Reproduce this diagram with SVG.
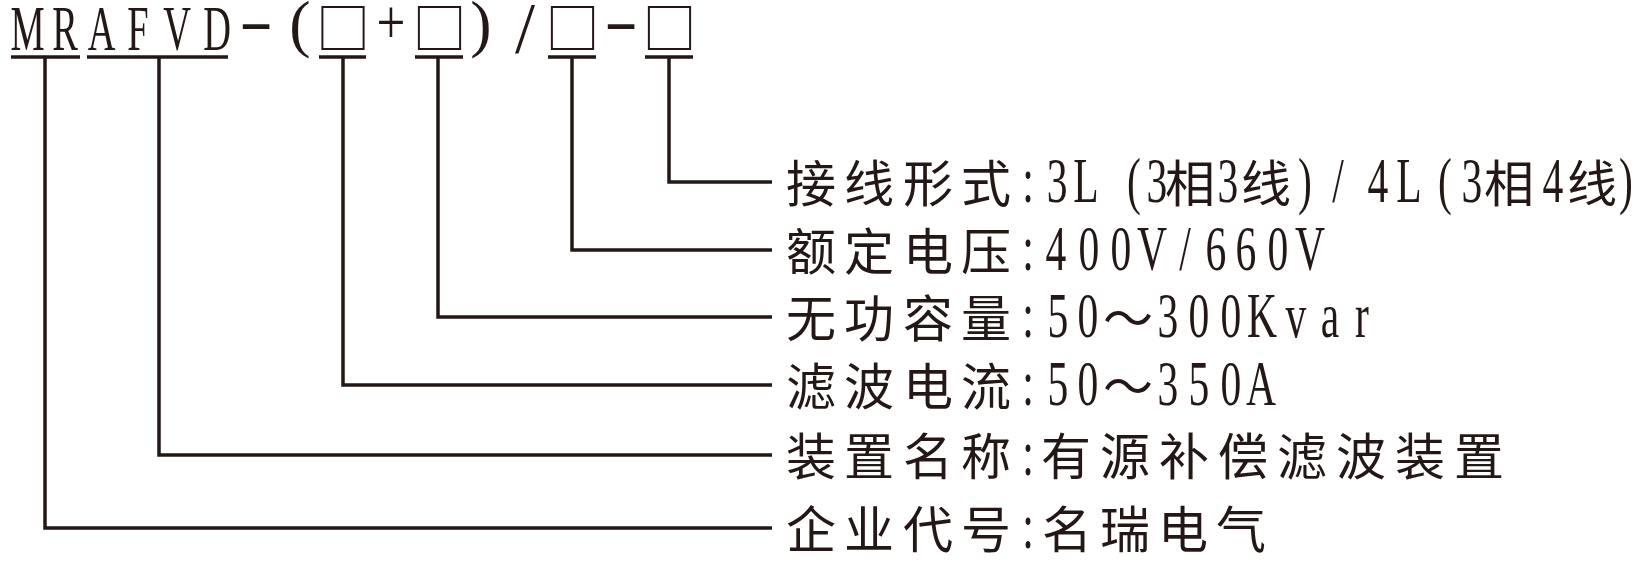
<svg xmlns="http://www.w3.org/2000/svg" width="1646" height="564" viewBox="0 0 1646 564">
<style>
.lat{font-family:"Liberation Serif","Times New Roman",serif;font-size:64px;fill:#231815;text-anchor:middle}
.cjk{font-family:"Noto Sans CJK SC","Noto Sans CJK JP",sans-serif;font-size:50px;fill:#231815;text-anchor:middle}
.box{font-family:"Noto Sans CJK SC","Noto Sans CJK JP",sans-serif;font-size:54px;fill:#231815;text-anchor:middle}
.ln{fill:none;stroke:#231815;stroke-width:3.5;stroke-linecap:butt;stroke-linejoin:miter}
</style>
<rect width="1646" height="564" fill="#ffffff"/>
<g id="title">
<text class="lat" transform="scale(0.6,1)" x="45.8 108.3 169.2 230 295 361.7" y="50">MRAFVD</text>
<text class="lat" transform="translate(256,0) scale(1.6,1)" x="0" y="42">-</text>
<text class="lat" x="300" y="45">(</text>
<text class="box" x="343" y="48.5">□</text>
<text class="lat" transform="translate(391,0) scale(0.8,1)" x="0" y="44">+</text>
<text class="box" x="439.5" y="48.5">□</text>
<text class="lat" x="481" y="45">)</text>
<text class="lat" x="525" y="52" style="font-size:72px">/</text>
<text class="box" x="572.5" y="48.5">□</text>
<text class="lat" transform="translate(621,0) scale(1.6,1)" x="0" y="42">-</text>
<text class="box" x="669.5" y="48.5">□</text>
</g>
<g id="connectors">
<path class="ln" d="M11,57H80M87,57H228M319,57H366M415,57H463M548,57H596M645,57H693"/>
<path class="ln" d="M669,57V182H772"/>
<path class="ln" d="M572,57V250H772"/>
<path class="ln" d="M438,57V317H772"/>
<path class="ln" d="M343,57V385H772"/>
<path class="ln" d="M159,57V455H772"/>
<path class="ln" d="M45,57V528H772"/>
</g>
<g id="row1">
<text class="cjk" x="811 869 928 986" y="201.5">接线形式</text>
<text class="lat" transform="scale(0.65,1)" x="1581.5 1626.2 1670.8 1744.6 1780" y="202">:3L(3</text>
<text class="cjk" x="1190" y="201.5">相</text>
<text class="lat" transform="scale(0.65,1)" x="1889.2" y="202">3</text>
<text class="cjk" x="1266" y="201.5">线</text>
<text class="lat" transform="scale(0.65,1)" x="2007.7 2058.5 2120 2167.7 2223.1 2264.6" y="202">)/4L(3</text>
<text class="cjk" x="1509" y="201.5">相</text>
<text class="lat" transform="scale(0.65,1)" x="2389.2" y="202">4</text>
<text class="cjk" x="1592" y="201.5">线</text>
<text class="lat" transform="scale(0.65,1)" x="2501.5" y="202">)</text>
</g>
<g id="row2">
<text class="cjk" x="811 869 928 986" y="269.5">额定电压</text>
<text class="lat" transform="scale(0.65,1)" x="1581.5 1624.6 1675.4 1724.6 1772.3 1823.1 1870.8 1916.9 1966.2 2015.4" y="270">:400V/660V</text>
</g>
<g id="row3">
<text class="cjk" x="811 869 928 986" y="336.5">无功容量</text>
<text class="lat" transform="scale(0.65,1)" x="1581.5 1627.7 1673.8" y="337">:50</text>
<text class="cjk" x="1128" y="336.5">～</text>
<text class="lat" transform="scale(0.65,1)" x="1796.9 1844.6 1893.8 1941.5 1993.8 2046 2095.4" y="337">300Kvar</text>
</g>
<g id="row4">
<text class="cjk" x="811 869 928 986" y="404.5">滤波电流</text>
<text class="lat" transform="scale(0.65,1)" x="1581.5 1627.7 1673.8" y="405">:50</text>
<text class="cjk" x="1128" y="404.5">～</text>
<text class="lat" transform="scale(0.65,1)" x="1796.9 1844.6 1893.8 1940" y="405">350A</text>
</g>
<g id="row5">
<text class="cjk" x="811 869 928 986" y="474.5">装置名称</text>
<text class="lat" transform="scale(0.65,1)" x="1581.5" y="475">:</text>
<text class="cjk" x="1066 1125 1184 1243 1302 1361 1420 1479" y="474.5">有源补偿滤波装置</text>
</g>
<g id="row6">
<text class="cjk" x="811 869 928 986" y="547.5">企业代号</text>
<text class="lat" transform="scale(0.65,1)" x="1581.5" y="548">:</text>
<text class="cjk" x="1067 1125 1183 1241" y="547.5">名瑞电气</text>
</g>
</svg>
